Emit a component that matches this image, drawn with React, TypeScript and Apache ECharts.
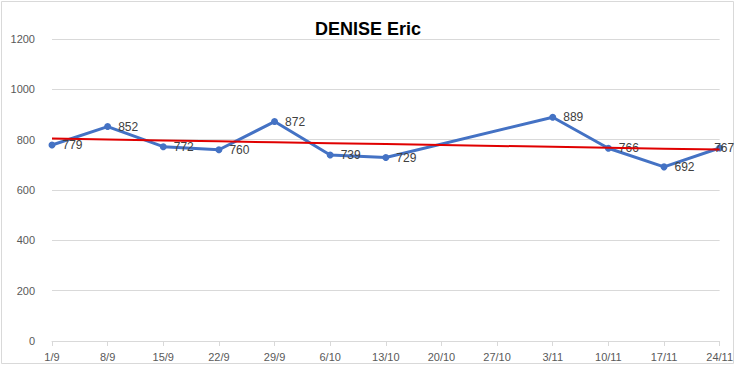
import React, { useEffect, useRef } from "react";
import * as echarts from "echarts";

const titleText = "DENISE Eric";
const categories = ["1/9", "8/9", "15/9", "22/9", "29/9", "6/10", "13/10", "20/10", "27/10", "3/11", "10/11", "17/11", "24/11"];
const values: (number | null)[] = [779, 852, 772, 760, 872, 739, 729, null, null, 889, 766, 692, 767];
const yTicks = { min: 0, max: 1200, interval: 200 };

function trend(vals: (number | null)[]): number[] {
  const pts: [number, number][] = [];
  vals.forEach((v, i) => { if (v !== null) pts.push([i, v]); });
  const n = pts.length;
  const mx = pts.reduce((s, p) => s + p[0], 0) / n;
  const my = pts.reduce((s, p) => s + p[1], 0) / n;
  let sxy = 0, sxx = 0;
  pts.forEach(([x, y]) => { sxy += (x - mx) * (y - my); sxx += (x - mx) * (x - mx); });
  const b = sxy / sxx;
  const a = my - b * mx;
  return vals.map((_, i) => +(a + b * i).toFixed(2));
}

export default function App() {
  const ref = useRef<HTMLDivElement>(null);
  useEffect(() => {
    document.body.style.margin = "0";
    if (!ref.current) return;
    const chart = echarts.init(ref.current, null, { renderer: "svg" });
    const font = "'Liberation Sans', Arial, sans-serif";
    const lastIdx = values.length - 1;
    chart.setOption({
      animation: false,
      backgroundColor: "#ffffff",
      textStyle: { fontFamily: font },
      title: {
        text: titleText,
        left: "center",
        top: 15,
        textStyle: { fontFamily: font, fontSize: 18, fontWeight: "bold", color: "#000000" },
      },
      graphic: [
        {
          type: "rect",
          shape: { x: 1.5, y: 1.5, width: 732, height: 362 },
          style: { fill: "none", stroke: "#d9d9d9", lineWidth: 1 },
          silent: true,
        },
      ],
      grid: { left: 52, right: 16, top: 39, bottom: 26, containLabel: false },
      xAxis: {
        type: "category",
        data: categories,
        boundaryGap: false,
        axisLine: { lineStyle: { color: "#d9d9d9", width: 1 } },
        axisTick: { show: true, length: 5, inside: false, lineStyle: { color: "#d9d9d9" }, alignWithLabel: true },
        axisLabel: { color: "#595959", fontSize: 11, margin: 10, fontFamily: font, interval: 0 },
        splitLine: { show: false },
      },
      yAxis: {
        type: "value",
        min: yTicks.min,
        max: yTicks.max,
        interval: yTicks.interval,
        axisLine: { show: false },
        axisTick: { show: false },
        axisLabel: {
          color: "#595959",
          fontSize: 11,
          margin: 17,
          fontFamily: font,
          formatter: (v: number) => String(v),
        },
        splitLine: { lineStyle: { color: "#d9d9d9", width: 1 } },
      },
      series: [
        {
          type: "line",
          data: values.map((v, i) =>
            i === lastIdx ? { value: v, label: { offset: [-16, 0] } } : v
          ),
          connectNulls: true,
          symbol: "circle",
          symbolSize: 7,
          showSymbol: true,
          lineStyle: { color: "#4472C4", width: 3 },
          itemStyle: { color: "#4472C4" },
          label: {
            show: true,
            position: "right",
            distance: 7,
            color: "#404040",
            fontSize: 12,
            fontFamily: font,
          },
          z: 2,
        },
        {
          type: "line",
          data: trend(values),
          symbol: "none",
          lineStyle: { color: "#e00000", width: 2 },
          silent: true,
          z: 3,
        },
      ],
    });
    return () => chart.dispose();
  }, []);
  return <div ref={ref} style={{ width: 736, height: 367 }} />;
}
